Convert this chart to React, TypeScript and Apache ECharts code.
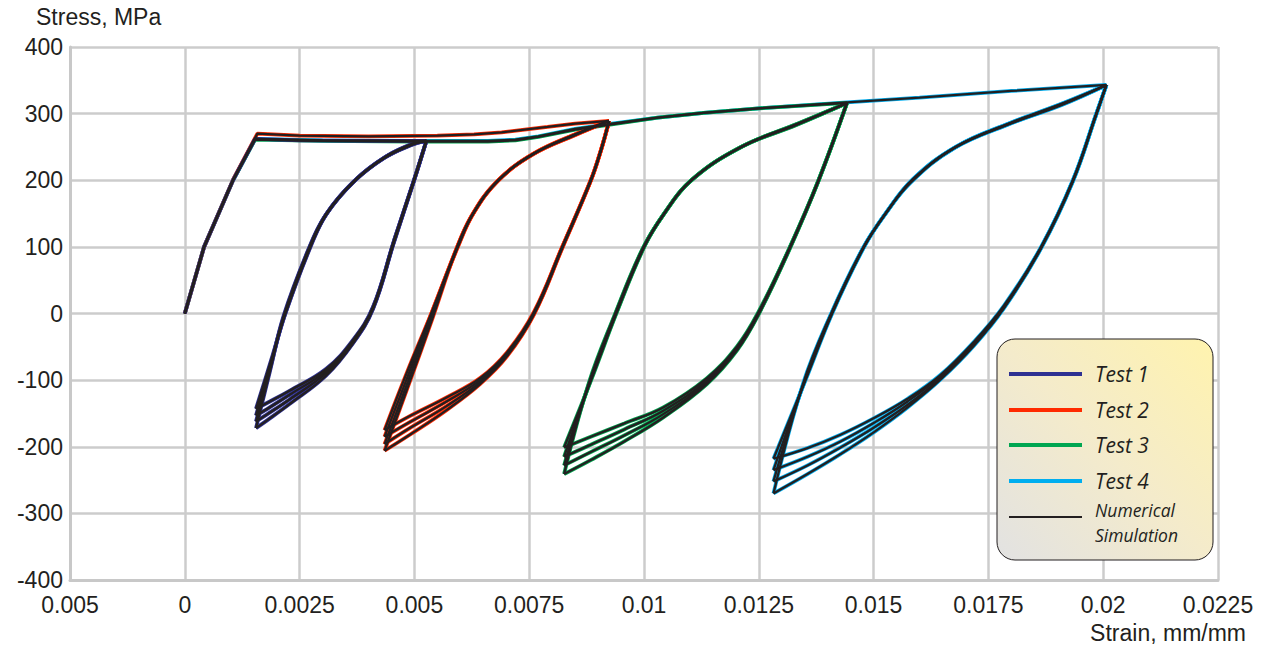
import React, { useEffect, useRef } from "react";
import * as echarts from "echarts";

// ---------- axis ticks ----------
const X_MIN = -0.0025;
const X_MAX = 0.0225;
const X_STEP = 0.0025;
const xTickLabels = ["0.005", "0", "0.0025", "0.005", "0.0075", "0.01", "0.0125", "0.015", "0.0175", "0.02", "0.0225"];
const Y_MIN = -400;
const Y_MAX = 400;
const Y_STEP = 100;

// ---------- Test 1 ----------
const t1Mono = [[0, 0], [0.00042, 100], [0.00105, 200], [0.00153, 262], [0.0025, 260], [0.004, 259], [0.00526, 259]];
const t1Unload = [
  [[0.00526, 259], [0.00499, 200], [0.00456, 110], [0.0041, 10], [0.00366, -40], [0.00308, -83], [0.00228, -116], [0.0018, -134], [0.00155, -143]],
  [[0.00526, 259], [0.00499, 200], [0.00456, 110], [0.0041, 9], [0.00366, -42], [0.00308, -86], [0.00228, -122], [0.0018, -143], [0.00155, -153]],
  [[0.00526, 259], [0.00499, 199], [0.00456, 109], [0.0041, 8], [0.00366, -44], [0.00308, -89], [0.00228, -129], [0.0018, -151], [0.00155, -162]],
  [[0.00526, 259], [0.00499, 199], [0.00456, 108], [0.0041, 7], [0.00366, -45], [0.00308, -93], [0.00228, -136], [0.0018, -160], [0.00155, -172]],
];
const t1Reload = [
  [[0.00155, -143], [0.00188, -70], [0.0022, 2], [0.00275, 102], [0.00311, 152], [0.00374, 202], [0.00439, 236], [0.00497, 255], [0.00526, 259]],
  [[0.00155, -153], [0.00187, -76], [0.00219, 0], [0.00273, 100], [0.00309, 150], [0.00371, 200], [0.00437, 235], [0.00496, 254], [0.00526, 259]],
  [[0.00155, -162], [0.00186, -82], [0.00217, -2], [0.00271, 98], [0.00307, 148], [0.00368, 198], [0.00435, 234], [0.00495, 254], [0.00526, 259]],
  [[0.00155, -172], [0.00185, -88], [0.00215, -4], [0.00269, 96], [0.00305, 146], [0.00365, 196], [0.00433, 233], [0.00494, 253], [0.00526, 259]],
];

// ---------- Test 2 ----------
const t2Mono = [[0, 0], [0.00042, 100], [0.00106, 202], [0.00158, 270], [0.0025, 267], [0.004, 266], [0.0055, 267], [0.0063, 269], [0.0069, 272], [0.0074, 276], [0.0079, 280], [0.0085, 285], [0.00924, 289]];
const t2Unload = [
  [[0.00924, 289], [0.00906, 245], [0.00884, 200], [0.00822, 100], [0.0076, 2], [0.00702, -58], [0.00643, -97], [0.0057, -126], [0.0049, -154], [0.00435, -175]],
  [[0.00924, 289], [0.00906, 245], [0.00884, 200], [0.00822, 100], [0.0076, 0], [0.00702, -60], [0.00643, -100], [0.0057, -132], [0.0049, -163], [0.00435, -185]],
  [[0.00924, 289], [0.00906, 244], [0.00884, 199], [0.00822, 99], [0.0076, -1], [0.00702, -62], [0.00643, -103], [0.0057, -139], [0.0049, -172], [0.00435, -196]],
  [[0.00924, 289], [0.00906, 244], [0.00884, 199], [0.00822, 98], [0.0076, -2], [0.00702, -64], [0.00643, -106], [0.0057, -145], [0.0049, -182], [0.00435, -206]],
];
const t2Reload = [
  [[0.00435, -175], [0.00484, -88], [0.00538, 2], [0.00596, 102], [0.0063, 152], [0.00686, 202], [0.00762, 241], [0.00857, 271], [0.00924, 289]],
  [[0.00435, -185], [0.00485, -95], [0.00537, 0], [0.00594, 100], [0.00628, 150], [0.00683, 200], [0.0076, 240], [0.00855, 270], [0.00924, 289]],
  [[0.00435, -196], [0.00486, -102], [0.00538, -2], [0.00592, 98], [0.00626, 148], [0.0068, 198], [0.00758, 239], [0.00853, 269], [0.00924, 289]],
  [[0.00435, -206], [0.00487, -108], [0.0054, -6], [0.0059, 94], [0.00624, 146], [0.00677, 196], [0.00756, 238], [0.00851, 268], [0.00924, 289]],
];

// ---------- Test 3 ----------
const t3Mono = [[0, 0], [0.00042, 100], [0.00105, 200], [0.00153, 261], [0.003, 259], [0.005, 258], [0.0066, 258], [0.0072, 260], [0.0077, 265], [0.0085, 276], [0.0093, 284], [0.0103, 294], [0.0113, 301], [0.0125, 308], [0.01442, 316]];
const t3Unload = [
  [[0.01442, 316], [0.0138, 200], [0.01318, 100], [0.01249, 2], [0.01203, -49], [0.01137, -97], [0.01042, -141], [0.00957, -165], [0.00884, -185], [0.00826, -201]],
  [[0.01442, 316], [0.0138, 200], [0.01318, 100], [0.01249, 0], [0.01203, -51], [0.01137, -100], [0.01042, -146], [0.00957, -174], [0.00884, -197], [0.00826, -215]],
  [[0.01442, 316], [0.0138, 199], [0.01318, 99], [0.01249, -1], [0.01203, -53], [0.01137, -103], [0.01042, -151], [0.00957, -183], [0.00884, -208], [0.00826, -228]],
  [[0.01442, 316], [0.0138, 199], [0.01318, 98], [0.01249, -2], [0.01203, -55], [0.01137, -106], [0.01042, -156], [0.00957, -192], [0.00884, -220], [0.00826, -241]],
];
const t3Reload = [
  [[0.00826, -201], [0.00886, -98], [0.00941, 2], [0.01002, 102], [0.01046, 152], [0.01106, 202], [0.01215, 251], [0.01338, 286], [0.01442, 316]],
  [[0.00826, -215], [0.00884, -100], [0.00939, 0], [0.01, 100], [0.01044, 150], [0.01103, 200], [0.01212, 250], [0.01336, 285], [0.01442, 316]],
  [[0.00826, -228], [0.00882, -102], [0.00937, -2], [0.00998, 98], [0.01042, 148], [0.011, 198], [0.01209, 249], [0.01334, 284], [0.01442, 316]],
  [[0.00826, -241], [0.0088, -104], [0.00935, -4], [0.00996, 96], [0.0104, 146], [0.01097, 196], [0.01206, 248], [0.01332, 283], [0.01442, 316]],
];

// ---------- Test 4 ----------
const t4Mono = [[0, 0], [0.00042, 100], [0.00105, 200], [0.00153, 262], [0.003, 260], [0.005, 259], [0.0066, 259], [0.0072, 261], [0.0077, 266], [0.0085, 277], [0.0093, 285], [0.0103, 294], [0.0113, 301], [0.0125, 308], [0.01442, 317], [0.016, 324], [0.018, 334], [0.02007, 343]];
const t4Unload = [
  [[0.02007, 343], [0.01985, 300], [0.01934, 200], [0.01865, 100], [0.01784, 12], [0.01719, -42], [0.01646, -92], [0.01574, -128], [0.01501, -157], [0.01428, -182], [0.01356, -202], [0.01282, -218]],
  [[0.02007, 343], [0.01985, 300], [0.01934, 200], [0.01865, 100], [0.01784, 10], [0.01719, -44], [0.01646, -94], [0.01574, -132], [0.01501, -164], [0.01428, -192], [0.01356, -215], [0.01282, -235]],
  [[0.02007, 343], [0.01985, 299], [0.01934, 199], [0.01865, 99], [0.01784, 9], [0.01719, -46], [0.01646, -97], [0.01574, -137], [0.01501, -171], [0.01428, -201], [0.01356, -228], [0.01282, -252]],
  [[0.02007, 343], [0.01985, 299], [0.01934, 198], [0.01865, 98], [0.01784, 8], [0.01719, -48], [0.01646, -99], [0.01574, -141], [0.01501, -178], [0.01428, -211], [0.01356, -241], [0.01282, -270]],
];
const t4Reload = [
  [[0.01282, -218], [0.01353, -98], [0.01411, 2], [0.01481, 102], [0.01528, 152], [0.01586, 202], [0.01681, 251], [0.01797, 286], [0.01913, 316], [0.02007, 343]],
  [[0.01282, -235], [0.01351, -100], [0.01409, 0], [0.01479, 100], [0.01526, 150], [0.01584, 200], [0.01679, 250], [0.01795, 285], [0.01912, 315], [0.02007, 343]],
  [[0.01282, -252], [0.01349, -102], [0.01407, -2], [0.01477, 98], [0.01524, 148], [0.01582, 198], [0.01677, 249], [0.01793, 284], [0.01911, 314], [0.02007, 343]],
  [[0.01282, -270], [0.01347, -104], [0.01405, -4], [0.01475, 96], [0.01522, 146], [0.0158, 196], [0.01675, 248], [0.01791, 283], [0.0191, 313], [0.02007, 343]],
];

const testNames = ["Test 1", "Test 2", "Test 3", "Test 4"];
const testColors = ["#2e3192", "#ff2a00", "#00a651", "#00aeef"];
const simName = "Numerical Simulation";
const simColor = "#231f20";

const tests = [
  { mono: t1Mono, unload: t1Unload, reload: t1Reload },
  { mono: t2Mono, unload: t2Unload, reload: t2Reload },
  { mono: t3Mono, unload: t3Unload, reload: t3Reload },
  { mono: t4Mono, unload: t4Unload, reload: t4Reload },
];

const TEXT = "#231f20";
const AXIS_FONT = "'Liberation Sans', Arial, Helvetica, sans-serif";
const LEGEND_FONT = "'Open Sans', 'Noto Sans', sans-serif";

function buildSeries() {
  const colored: any[] = [];
  const black: any[] = [];
  tests.forEach((t, i) => {
    const branches: { data: number[][]; smooth: number | boolean }[] = [
      { data: t.mono, smooth: false },
      ...t.unload.map((d) => ({ data: d, smooth: 0.4 })),
      ...t.reload.map((d) => ({ data: d, smooth: 0.4 })),
    ];
    branches.forEach((b) => {
      colored.push({
        type: "line",
        name: testNames[i],
        data: b.data,
        smooth: b.smooth,
        symbol: "none",
        showSymbol: false,
        silent: true,
        z: 2,
        lineStyle: { color: testColors[i], width: 3.8 },
      });
      black.push({
        type: "line",
        name: simName,
        data: b.data,
        smooth: b.smooth,
        symbol: "none",
        showSymbol: false,
        silent: true,
        z: 3,
        lineStyle: { color: simColor, width: 2.3 },
      });
    });
  });
  return [...colored.reverse(), ...black];
}

function buildGraphics() {
  const rows = [374, 410, 445, 481];
  const els: any[] = [
    {
      type: "rect",
      z: 100,
      shape: { x: 997, y: 339, width: 216, height: 221, r: 18 },
      style: {
        fill: new echarts.graphic.LinearGradient(0, 1, 1, 0, [
          { offset: 0, color: "#e2e2e2" },
          { offset: 0.5, color: "#f4ebcb" },
          { offset: 1, color: "#fff3ae" },
        ]),
        stroke: "#231f20",
        lineWidth: 1,
      },
    },
  ];
  testNames.forEach((n, i) => {
    els.push({
      type: "line",
      z: 101,
      shape: { x1: 1009, y1: rows[i], x2: 1082, y2: rows[i] },
      style: { stroke: testColors[i], lineWidth: 4 },
    });
    els.push({
      type: "text",
      z: 101,
      x: 1095,
      y: rows[i],
      style: {
        text: n,
        fill: TEXT,
        fontSize: 21,
        fontStyle: "italic",
        fontFamily: LEGEND_FONT,
        align: "left",
        verticalAlign: "middle",
      },
    });
  });
  els.push({
    type: "line",
    z: 101,
    shape: { x1: 1009, y1: 517, x2: 1082, y2: 517 },
    style: { stroke: simColor, lineWidth: 2 },
  });
  els.push({
    type: "text",
    z: 101,
    x: 1095,
    y: 510,
    style: { text: "Numerical", fill: TEXT, fontSize: 17.5, fontStyle: "italic", fontFamily: LEGEND_FONT, align: "left", verticalAlign: "middle" },
  });
  els.push({
    type: "text",
    z: 101,
    x: 1095,
    y: 535,
    style: { text: "Simulation", fill: TEXT, fontSize: 17.5, fontStyle: "italic", fontFamily: LEGEND_FONT, align: "left", verticalAlign: "middle" },
  });
  // axis titles
  els.push({
    type: "text",
    z: 50,
    x: 36,
    y: 17,
    style: { text: "Stress, MPa", fill: TEXT, fontSize: 23, fontFamily: AXIS_FONT, align: "left", verticalAlign: "middle" },
  });
  els.push({
    type: "text",
    z: 50,
    x: 1246,
    y: 633,
    style: { text: "Strain, mm/mm", fill: TEXT, fontSize: 23, fontFamily: AXIS_FONT, align: "right", verticalAlign: "middle" },
  });
  return els;
}

export default function App() {
  const ref = useRef<HTMLDivElement>(null);
  useEffect(() => {
    if (!ref.current) return;
    const chart = echarts.init(ref.current, null, { renderer: "svg" });
    const option: any = {
      animation: false,
      backgroundColor: "#ffffff",
      grid: { left: 70, top: 47, width: 1148, height: 533, containLabel: false },
      xAxis: {
        type: "value",
        min: X_MIN,
        max: X_MAX,
        interval: X_STEP,
        axisLine: { show: true, onZero: false, lineStyle: { color: "#c8c8c8", width: 3 } },
        axisTick: { show: false },
        splitLine: { show: true, lineStyle: { color: "#cccccc", width: 2.5 } },
        axisLabel: {
          margin: 13,
          color: TEXT,
          fontSize: 23,
          fontFamily: AXIS_FONT,
          formatter: (v: number) => {
            const idx = Math.round((v - X_MIN) / X_STEP);
            return xTickLabels[idx] ?? "";
          },
        },
      },
      yAxis: {
        type: "value",
        min: Y_MIN,
        max: Y_MAX,
        interval: Y_STEP,
        axisLine: { show: true, onZero: false, lineStyle: { color: "#c8c8c8", width: 3 } },
        axisTick: { show: false },
        splitLine: { show: true, lineStyle: { color: "#cccccc", width: 2.5 } },
        axisLabel: { margin: 7, color: TEXT, fontSize: 23, fontFamily: AXIS_FONT },
      },
      legend: { show: false },
      series: buildSeries(),
      graphic: buildGraphics(),
    };
    chart.setOption(option);
    return () => chart.dispose();
  }, []);
  return (
    <div
      ref={ref}
      style={{ position: "absolute", left: 0, top: 0, width: 1273, height: 647, background: "#ffffff" }}
    />
  );
}
